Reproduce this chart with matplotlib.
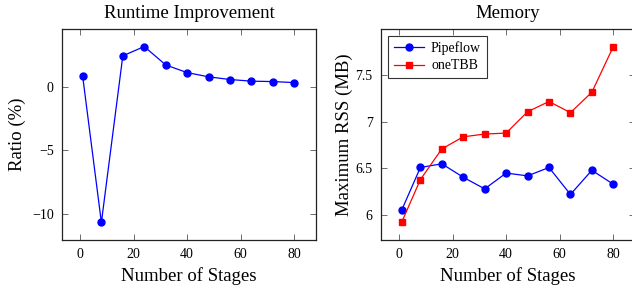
import matplotlib
matplotlib.use("Agg")
import matplotlib.pyplot as plt

plt.rcParams["font.family"] = ["Liberation Serif", "DejaVu Serif"]
plt.rcParams["mathtext.fontset"] = "stix"

# Datos
stages = [1, 8, 16, 24, 32, 40, 48, 56, 64, 72, 80]
runtime_ratio = [0.83, -10.63, 2.40, 3.13, 1.69, 1.09, 0.76, 0.55, 0.42, 0.39, 0.31]
rss_pipeflow = [6.05, 6.51, 6.55, 6.405, 6.28, 6.45, 6.42, 6.51, 6.22, 6.48, 6.33]
rss_onetbb = [5.92, 6.38, 6.71, 6.84, 6.87, 6.88, 7.11, 7.22, 7.10, 7.32, 7.81]

x_ticks = [0, 20, 40, 60, 80]
ratio_ticks = [0, -5, -10]
ratio_labels = ["0", "\u22125", "\u221210"]
rss_ticks = [6, 6.5, 7, 7.5]
rss_labels = ["6", "6.5", "7", "7.5"]


def style_axis(ax):
    ax.tick_params(direction="in", top=True, right=True, labelsize=10,
                   length=4, width=0.6, color="#555555", pad=6)
    for s in ax.spines.values():
        s.set_linewidth(0.9)
        s.set_color("#222222")


fig = plt.figure(figsize=(6.32, 2.9), dpi=100)

ax1 = fig.add_axes([62 / 632, 50 / 290, 254 / 632, 211 / 290])
ax1.plot(stages, runtime_ratio, color="blue", marker="o", markersize=5, linewidth=0.9)
ax1.set_xlim(-6.7, 88.1)
ax1.set_ylim(-12.0, 4.5)
ax1.set_xticks(x_ticks)
ax1.set_yticks(ratio_ticks)
ax1.set_yticklabels(ratio_labels)
ax1.set_xlabel("Number of Stages", fontsize=13.5)
ax1.set_ylabel("Ratio (%)", fontsize=13.5)
ax1.set_title("Runtime Improvement", fontsize=13.5, pad=8)
style_axis(ax1)

ax2 = fig.add_axes([381 / 632, 50 / 290, 254 / 632, 211 / 290])
ax2.plot(stages, rss_pipeflow, color="blue", marker="o", markersize=5,
         linewidth=0.9, label="Pipeflow")
ax2.plot(stages, rss_onetbb, color="red", marker="s", markersize=5,
         linewidth=0.9, label="oneTBB")
ax2.set_xlim(-6.7, 88.1)
ax2.set_ylim(5.73, 8.0)
ax2.set_xticks(x_ticks)
ax2.set_yticks(rss_ticks)
ax2.set_yticklabels(rss_labels)
ax2.set_xlabel("Number of Stages", fontsize=13.5)
ax2.set_ylabel("Maximum RSS (MB)", fontsize=13.5, labelpad=2)
ax2.set_title("Memory", fontsize=13.5, pad=8)
style_axis(ax2)
leg = ax2.legend(loc="upper left", fontsize=10, fancybox=False, framealpha=1,
                 edgecolor="#333333", handlelength=2.2, borderpad=0.4,
                 labelspacing=0.3, handletextpad=0.5)
leg.get_frame().set_linewidth(0.8)

fig.savefig("out.png", dpi=100)
